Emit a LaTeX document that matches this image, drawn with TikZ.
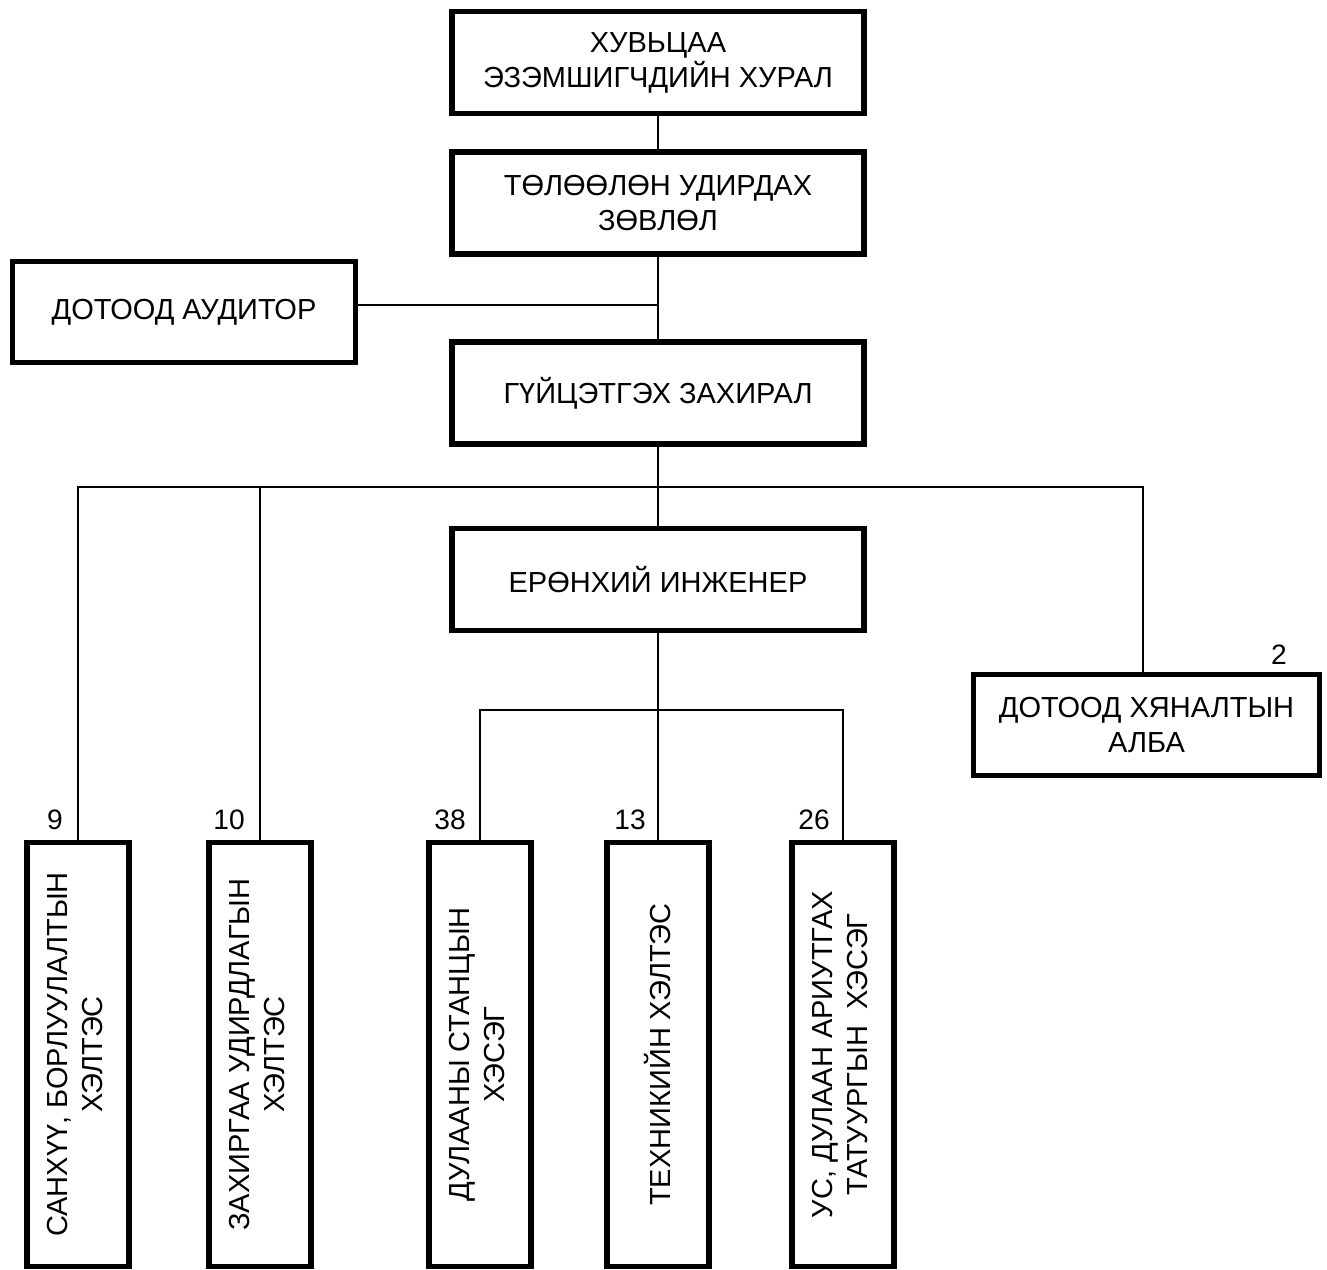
\documentclass[tikz,border=0pt]{standalone}
\usepackage{fontspec}
\setmainfont{Liberation Sans}
\usepackage{tikz}

\begin{document}
\begin{tikzpicture}[x=0.02cm,y=-0.02cm,
	box/.style={rectangle,draw,line width=3pt,align=center,inner sep=0pt,font=\fontsize{16.5}{20}\selectfont},
	wide/.style={box,minimum width=8.24cm,minimum height=2.04cm},
	tall/.style={box,minimum width=2.04cm,minimum height=8.48cm},
	num/.style={inner sep=0pt,font=\fontsize{16}{18}\selectfont},
	link/.style={line width=1pt}]

		\useasboundingbox (0,0) rectangle (1327,1269);

		\node[wide] (meeting) at (658,62.5) {ХУВЬЦАА\\ЭЗЭМШИГЧДИЙН ХУРАЛ};
		\node[wide] (board) at (658,203) {ТӨЛӨӨЛӨН УДИРДАХ\\ЗӨВЛӨЛ};
		\node[box,minimum width=6.86cm,minimum height=2.02cm] (auditor) at (184,312) {ДОТООД АУДИТОР};
		\node[wide] (director) at (658,393) {ГҮЙЦЭТГЭХ ЗАХИРАЛ};
		\node[wide] (engineer) at (658,579.5) {ЕРӨНХИЙ ИНЖЕНЕР};
		\node[box,minimum width=6.92cm,minimum height=2.02cm] (control) at (1146.5,725) {ДОТООД ХЯНАЛТЫН\\АЛБА};

		\node[tall] (finance) at (78,1054.5) {\rotatebox{90}{\begin{tabular}{@{}c@{}}САНХҮҮ, БОРЛУУЛАЛТЫН\\ХЭЛТЭС\end{tabular}}};
		\node[tall] (admin) at (260,1054.5) {\rotatebox{90}{\begin{tabular}{@{}c@{}}ЗАХИРГАА УДИРДЛАГЫН\\ХЭЛТЭС\end{tabular}}};
		\node[tall] (station) at (480,1054.5) {\rotatebox{90}{\begin{tabular}{@{}c@{}}ДУЛААНЫ СТАНЦЫН\\ХЭСЭГ\end{tabular}}};
		\node[tall] (tech) at (658,1054.5) {\rotatebox{90}{ТЕХНИКИЙН ХЭЛТЭС}};
		\node[tall] (water) at (843,1054.5) {\rotatebox{90}{\begin{tabular}{@{}c@{}}УС, ДУЛААН АРИУТГАХ\\ТАТУУРГЫН\ \ ХЭСЭГ\end{tabular}}};

		% staff numbers
		\node[num,anchor=south east] (n9) at ([xshift=-0.3cm,yshift=0.2cm]finance.north) {9};
		\node[num,anchor=south east] (n10) at ([xshift=-0.3cm,yshift=0.2cm]admin.north) {10};
		\node[num,anchor=south east] (n38) at ([xshift=-0.28cm,yshift=0.2cm]station.north) {38};
		\node[num,anchor=south east] (n13) at ([xshift=-0.24cm,yshift=0.2cm]tech.north) {13};
		\node[num,anchor=south east] (n26) at ([xshift=-0.26cm,yshift=0.2cm]water.north) {26};
		\node[num,anchor=south east] (n2) at ([xshift=-0.7cm,yshift=0.15cm]control.north east) {2};

		\coordinate (bus) at (658,487);
		\coordinate (subbus) at (658,710);

		\draw[link] (meeting) -- (board);
		\draw[link] (board) -- (director);
		\draw[link] ([yshift=0.14cm]auditor.east) -- ([yshift=0.14cm]auditor.east -| board.south);
		\draw[link] (director) -- (engineer);
		\draw[link] (finance.north) |- (bus) -| (control.north -| 1143,0);
		\draw[link] (admin.north) -- (admin.north |- bus);
		\draw[link] (engineer) -- (tech);
		\draw[link] (station.north) |- (subbus) -| (water.north);

	\end{tikzpicture}
\end{document}
